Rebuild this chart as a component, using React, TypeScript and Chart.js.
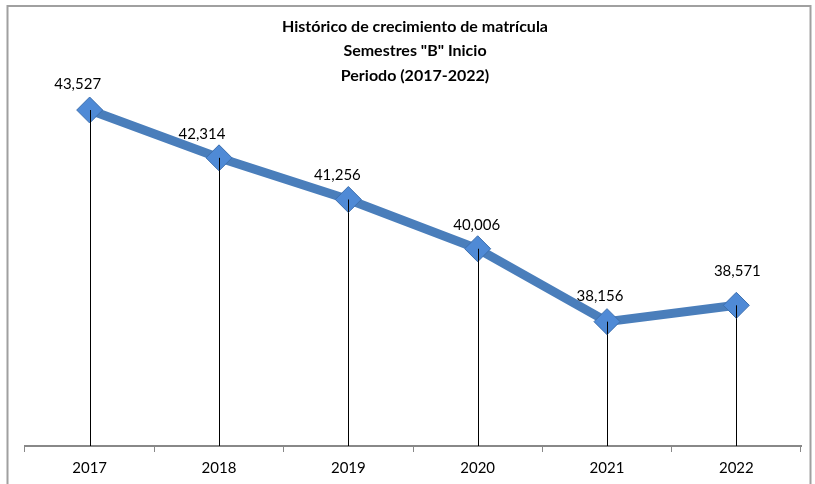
import React, { useEffect, useRef } from "react";
import { Chart, registerables } from "chart.js";

Chart.register(...registerables);

const years = ["2017", "2018", "2019", "2020", "2021", "2022"];
const matricula = [43527, 42314, 41256, 40006, 38156, 38571];
const valueLabels = ["43,527", "42,314", "41,256", "40,006", "38,156", "38,571"];
const titleLines = ["Histórico de crecimiento de matrícula", 'Semestres "B" Inicio', "Periodo (2017-2022)"];
const labelDx = [-12, -17, -11, -1, -7, 1];
const labelDy = [-26, -24, -24, -24, -25, -34];

const FONT = "Lato, 'Open Sans', sans-serif";

const extras = {
  id: "extras",
  beforeDraw(chart: any) {
    const ctx = chart.ctx;
    ctx.save();
    ctx.strokeStyle = "#a0a0a0";
    ctx.lineWidth = 2;
    ctx.strokeRect(7.5, 6, 803, 520);
    ctx.restore();
  },
  beforeDatasetsDraw(chart: any) {
    const ctx = chart.ctx;
    const meta = chart.getDatasetMeta(0);
    const bottom = chart.chartArea.bottom;
    ctx.save();
    ctx.strokeStyle = "#000000";
    ctx.lineWidth = 1;
    meta.data.forEach((pt: any) => {
      const x = Math.round(pt.x) + 0.5;
      ctx.beginPath();
      ctx.moveTo(x, pt.y);
      ctx.lineTo(x, bottom);
      ctx.stroke();
    });
    ctx.restore();
  },
  afterDatasetsDraw(chart: any) {
    const ctx = chart.ctx;
    const meta = chart.getDatasetMeta(0);
    ctx.save();
    ctx.strokeStyle = "#000000";
    ctx.lineWidth = 1;
    meta.data.forEach((pt: any) => {
      const x = Math.round(pt.x) + 0.5;
      ctx.beginPath();
      ctx.moveTo(x, pt.y);
      ctx.lineTo(x, pt.y + 13);
      ctx.stroke();
    });
    ctx.fillStyle = "#000000";
    ctx.font = "15px " + FONT;
    ctx.textAlign = "center";
    ctx.textBaseline = "middle";
    meta.data.forEach((pt: any, i: number) => {
      ctx.fillText(valueLabels[i], pt.x + labelDx[i], pt.y + labelDy[i]);
    });
    ctx.restore();
  },
};

export default function App() {
  const ref = useRef<HTMLCanvasElement>(null);
  useEffect(() => {
    const chart = new Chart(ref.current!, {
      type: "line",
      data: {
        labels: years,
        datasets: [
          {
            data: matricula,
            borderColor: "#4a7ebb",
            borderWidth: 9,
            pointStyle: "rectRot",
            pointRadius: 13,
            pointBackgroundColor: "#4f8ad6",
            pointBorderColor: "#3d6fae",
            pointBorderWidth: 1,
            tension: 0,
            clip: false as any,
          },
        ],
      },
      plugins: [extras],
      options: {
        responsive: false,
        animation: false,
        layout: { padding: { top: 6, left: 25, right: 10, bottom: 0 } },
        plugins: {
          legend: { display: false },
          tooltip: { enabled: false },
          title: {
            display: true,
            text: titleLines,
            color: "#000000",
            font: { family: FONT, size: 16, weight: "bold", lineHeight: 1.55 },
            padding: { top: 8, bottom: 3 },
          },
        },
        scales: {
          x: {
            offset: true,
            grid: {
              offset: true,
              drawOnChartArea: false,
              drawTicks: true,
              tickLength: 6,
              color: "#888888",
              lineWidth: 1,
            },
            border: { display: true, color: "#888888", width: 2 },
            ticks: { color: "#000000", font: { family: FONT, size: 15 }, padding: 7 },
          },
          y: {
            display: false,
            min: 35000,
            max: 44000,
          },
        },
      },
    });
    return () => chart.destroy();
  }, []);
  return (
    <div style={{ position: "absolute", left: 0, top: 0, width: 815, height: 484, background: "#ffffff" }}>
      <canvas ref={ref} width={815} height={484} style={{ display: "block" }} />
    </div>
  );
}
